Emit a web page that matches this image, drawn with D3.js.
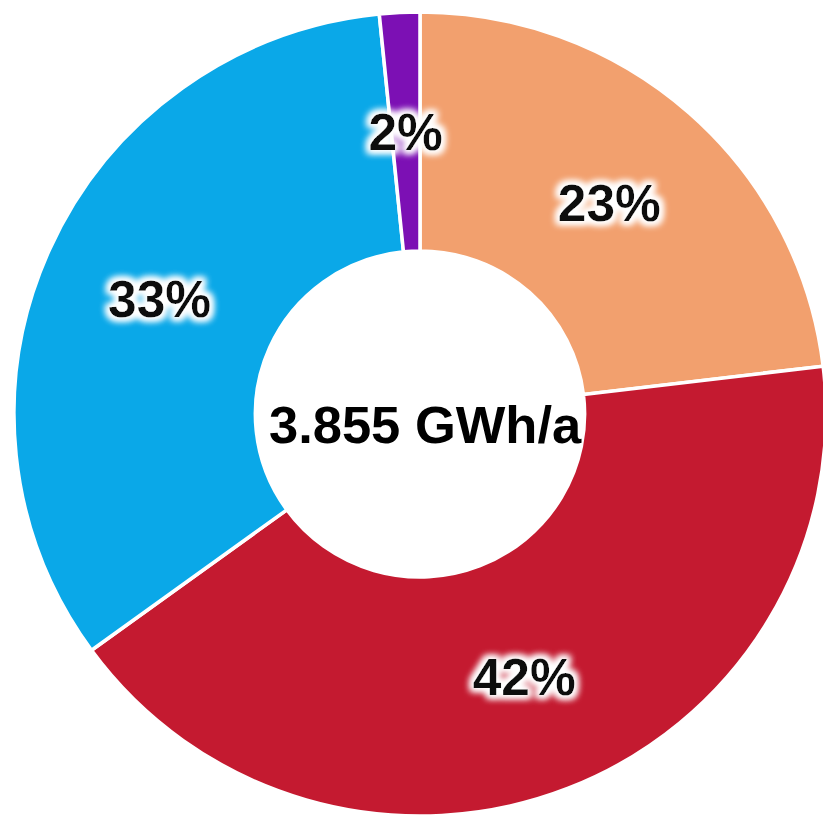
<!DOCTYPE html>
<html>
<head>
<meta charset="utf-8">
<script src="https://cdn.jsdelivr.net/npm/d3@7"></script>
<style>
  html, body { margin: 0; padding: 0; background: #fff; }
  svg { display: block; }
</style>
</head>
<body>
<svg id="chart" width="823" height="819"></svg>
<script>
// shares in percent, clockwise from 12 o'clock
var categories = ["A", "B", "C", "D"];
var values = [23.1, 41.9, 33.4, 1.6];
var labels = ["23%", "42%", "33%", "2%"];
var colors = ["#F2A06E", "#C41A30", "#0AA8E8", "#7C10B4"];
var totalLabel = "3.855 GWh/a";

var width = 823, height = 819,
    cx = 420, cy = 414,
    outerR = 402, innerR = 163;

var svg = d3.select("#chart");

// soft white halo behind the percentage labels
var defs = svg.append("defs");
var glow = defs.append("filter").attr("id", "halo")
    .attr("x", "-30%").attr("y", "-30%").attr("width", "160%").attr("height", "160%");
glow.append("feMorphology").attr("in", "SourceAlpha").attr("operator", "dilate").attr("radius", 3).attr("result", "thick");
glow.append("feGaussianBlur").attr("in", "thick").attr("stdDeviation", 3.5).attr("result", "blur");
glow.append("feFlood").attr("flood-color", "#ffffff").attr("result", "white");
glow.append("feComposite").attr("in", "white").attr("in2", "blur").attr("operator", "in").attr("result", "glow");
var merge = glow.append("feMerge");
merge.append("feMergeNode").attr("in", "glow");
merge.append("feMergeNode").attr("in", "glow");
merge.append("feMergeNode").attr("in", "SourceGraphic");

// the ring is a touch wider than tall in the original
var g = svg.append("g").attr("transform", "translate(" + cx + "," + cy + ") scale(1.01,1)");

var color = d3.scaleOrdinal().domain(categories).range(colors);

var pie = d3.pie().sort(null).value(function(d, i) { return values[i]; });
var arcs = pie(categories);

var arc = d3.arc().innerRadius(innerR).outerRadius(outerR);

g.selectAll("path.slice")
    .data(arcs)
  .enter().append("path")
    .attr("class", "slice")
    .attr("d", arc)
    .attr("fill", function(d) { return color(d.data); })
    .attr("stroke", "#fff")
    .attr("stroke-width", 3.5)
    .attr("stroke-linejoin", "miter");

g.selectAll("text.pct")
    .data(arcs)
  .enter().append("text")
    .attr("class", "pct")
    .attr("transform", function(d) { return "translate(" + arc.centroid(d) + ")"; })
    .attr("dy", "0.36em")
    .attr("text-anchor", "middle")
    .attr("font-family", "'Liberation Sans', Arial, sans-serif")
    .attr("font-weight", "bold")
    .attr("font-size", 51)
    .attr("fill", "#111")
    .attr("filter", "url(#halo)")
    .text(function(d, i) { return labels[i]; });

g.append("text")
    .attr("x", 5)
    .attr("y", 29)
    .attr("text-anchor", "middle")
    .attr("font-family", "'Liberation Sans', Arial, sans-serif")
    .attr("font-weight", "bold")
    .attr("font-size", 52)
    .attr("fill", "#000")
    .text(totalLabel);
</script>
</body>
</html>
